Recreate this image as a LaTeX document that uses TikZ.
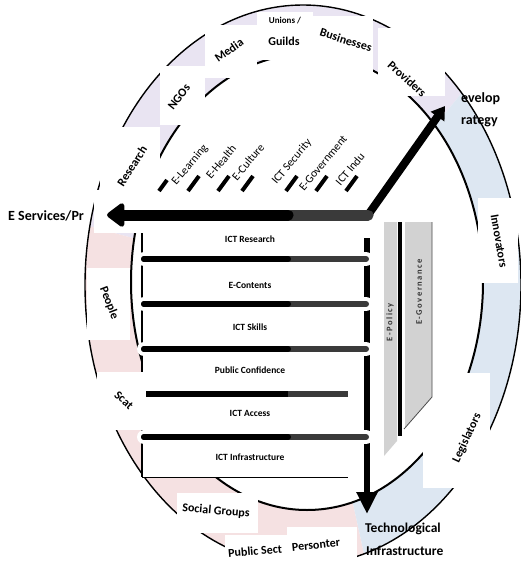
\documentclass[tikz,border=0pt]{standalone}
\usepackage{fontspec}
\setmainfont{Carlito}
\newfontfamily\spacedfont[LetterSpace=18]{Carlito}
\usetikzlibrary{arrows.meta}
\definecolor{lav}{HTML}{E9E4F2}
\definecolor{pinkc}{HTML}{F5E1E2}
\definecolor{bluec}{HTML}{DDE7F2}
\definecolor{panelgrey}{HTML}{D2D2D2}
\definecolor{bargrey}{HTML}{3A3A3A}
\begin{document}
\begin{tikzpicture}[x=1pt,y=-1pt,
  ringlabel/.style={font=\bfseries\fontsize{12}{13}\selectfont, inner sep=1pt},
  rowlabel/.style={font=\bfseries\fontsize{9.5}{11}\selectfont, inner sep=1pt},
  diaglabel/.style={font=\fontsize{11.5}{12}\selectfont, rotate=50, inner sep=0pt},
  biglabel/.style={font=\bfseries\fontsize{14}{16}\selectfont, anchor=west, inner sep=0pt},
  panellabel/.style={font=\spacedfont\bfseries\fontsize{8.5}{9}\selectfont, text=black!80, rotate=90, inner sep=0pt},
  whitebox/.style={fill=white, draw=none},
  barhalo/.style={draw=white, line width=14pt, line cap=round},
  barblack/.style={draw=black, line width=6pt, line cap=round},
  bargreyst/.style={draw=bargrey, line width=6pt, line cap=round},
  slashst/.style={draw=black, line width=4pt},
]
\useasboundingbox (0,0) rectangle (521,564);
\fill[white] (0,0) rectangle (521,564);

% ---- ring fills ----
\begin{scope}[even odd rule]
\clip (303,285) ellipse [x radius=218, y radius=280]
      (307,282) ellipse [x radius=176, y radius=228];
\fill[lav] (305,285) -- (-355,105) -- (-355,-600) -- (770,-600) -- (770,-285) -- cycle;
\fill[pinkc] (305,285) -- (-355,105) -- (-355,900) -- (440,900) -- cycle;
\fill[bluec] (305,285) -- (440,900) -- (1100,900) -- (1100,-600) -- (1027,-600) -- cycle;
\end{scope}

% ---- ring outlines ----
\draw[line width=1.4pt] (303,285) ellipse [x radius=218, y radius=280];
\draw[line width=2pt] (307,282) ellipse [x radius=176, y radius=228];

% ---- white boxes over the ring ----
\fill[whitebox] (100,127) rectangle (160,190);
\fill[whitebox] (160,66) rectangle (205,125);
\fill[whitebox] (205,25) rectangle (257,78);
\fill[whitebox] (257,12) rectangle (313,60);
\fill[whitebox] (313,16) rectangle (373,78);
\fill[whitebox] (378,28) rectangle (445,96);
\fill[whitebox] (478,198) rectangle (518,283);
\fill[whitebox] (423,373) rectangle (490,488);
\fill[whitebox] (87,268) rectangle (130,340);
\fill[whitebox] (97,372) rectangle (143,430);
\fill[whitebox] (177,493) rectangle (258,533);
\fill[whitebox] (225,535) rectangle (290,564);
\fill[whitebox] (287,527) rectangle (357,564);
\fill[whitebox] (94,190) rectangle (165,233);
\fill[whitebox] (142,228) rectangle (370,477);

% ---- E-Policy / E-Governance panels ----
\fill[panelgrey] (384,222) -- (397,222) -- (397,441) -- (384,456) -- cycle;
\fill[panelgrey] (405,222) -- (432,222) -- (432,397) -- (405,428) -- cycle;
\draw[line width=0.8pt, draw=black!70] (432,222) -- (432,397) -- (404,429);
\draw[line width=4pt] (400,222) -- (400,436);

% ---- stack frame ----
\draw[line width=1.2pt] (142,233) -- (142,372);
\draw[line width=1.2pt] (142,430) -- (142,477);
\draw[line width=1pt] (142,477) -- (348,477);

\coordinate (vtop) at (367,238);
\coordinate (techTip) at (367,514);
\draw[line width=6pt, -{Triangle[length=22pt, width=20pt]}] (vtop) -- (techTip);

\foreach \yy in {259,304,349,437}{
  \draw[barhalo] (144,\yy) -- (366,\yy);
  \draw[bargreyst] (144,\yy) -- (366,\yy);
  \draw[barblack] (144,\yy) -- (288,\yy);
}
\draw[draw=white, line width=14pt] (146,394) -- (348,394);
\draw[draw=black, line width=6pt] (146,394) -- (288,394);
\draw[draw=bargrey, line width=6pt] (288,394) -- (348,394);

% ---- diagonal slashes ----
\foreach \xx in {188,218,242,286,316,346}{
  \draw[slashst] (\xx,191) -- ++(11,-15);
}
\draw[slashst] (159,191) -- (167,180);

% ---- main arrows ----
\coordinate (hub) at (368,215);
\coordinate (split) at (288,215);
\coordinate (esTip) at (107,215);
\coordinate (devTip) at (445,106);
\draw[line width=8pt, -{Triangle[length=13pt, width=16pt]}] (hub) -- (devTip);
\draw[line width=11pt, draw=bargrey, line cap=round] (split) -- (hub);
\draw[line width=11pt, line cap=round, -{Triangle[length=19pt, width=27pt, round]}] (split) -- (esTip);

% ---- row labels ----
\node[rowlabel] (r1) at (250,239) {ICT Research};
\node[rowlabel] (r2) at (250,285) {E-Contents};
\node[rowlabel] (r3) at (250,327) {ICT Skills};
\node[rowlabel] (r4) at (250,370) {Public Confidence};
\node[rowlabel] (r5) at (250,413) {ICT Access};
\node[rowlabel] (r6) at (250,457) {ICT Infrastructure};

% ---- diagonal labels ----
\node[diaglabel] (d1) at (190,165) {E-Learning};
\node[diaglabel] (d2) at (221,162) {E-Health};
\node[diaglabel] (d3) at (248,162) {E-Culture};
\node[diaglabel] (d4) at (292,162) {ICT Security};
\node[diaglabel] (d5) at (323,163) {E-Government};
\node[diaglabel] (d6) at (350,169) {ICT Indu};

% ---- panel labels ----
\node[panellabel] (epol) at (390,322) {E-Policy};
\node[panellabel] (egov) at (419,292) {E-Governance};

% ---- ring labels ----
\node[ringlabel, rotate=57] (research) at (132,166) {Research};
\node[ringlabel, rotate=52] (ngos) at (179,97) {NGOs};
\node[ringlabel, rotate=35] (media) at (229,50) {Media};
\node[ringlabel, font=\bfseries\fontsize{9}{10}\selectfont] (unions) at (285,21) {Unions /};
\node[ringlabel] (guilds) at (284,41) {Guilds};
\node[ringlabel, rotate=-18] (business) at (346,40) {Businesses};
\node[ringlabel, rotate=-42] (providers) at (407,79) {Providers};
\node[ringlabel, rotate=-80] (innov) at (499,241) {Innovators};
\node[ringlabel, rotate=65] (legis) at (467,438) {Legislators};
\node[ringlabel, rotate=-69] (people) at (109,303) {People};
\node[ringlabel, rotate=-42] (scat) at (124,400) {Scat};
\node[ringlabel, rotate=-5] (social) at (216,511) {Social Groups};
\node[ringlabel, rotate=5] (public) at (255,551) {Public Sect};
\node[ringlabel, rotate=6] (person) at (316,545) {Personter};

% ---- big labels ----
\node[biglabel] (eserv) at (8,216) {E Services/Pr};
\node[biglabel] (dev1) at (461,99) {evelop};
\node[biglabel] (dev2) at (461,121) {rategy};
\node[biglabel, font=\bfseries\fontsize{13.5}{15}\selectfont] (tech1) at (365,529) {Technological};
\node[biglabel, font=\bfseries\fontsize{13.5}{15}\selectfont] (tech2) at (366,551) {Infrastructure};
\end{tikzpicture}
\end{document}
